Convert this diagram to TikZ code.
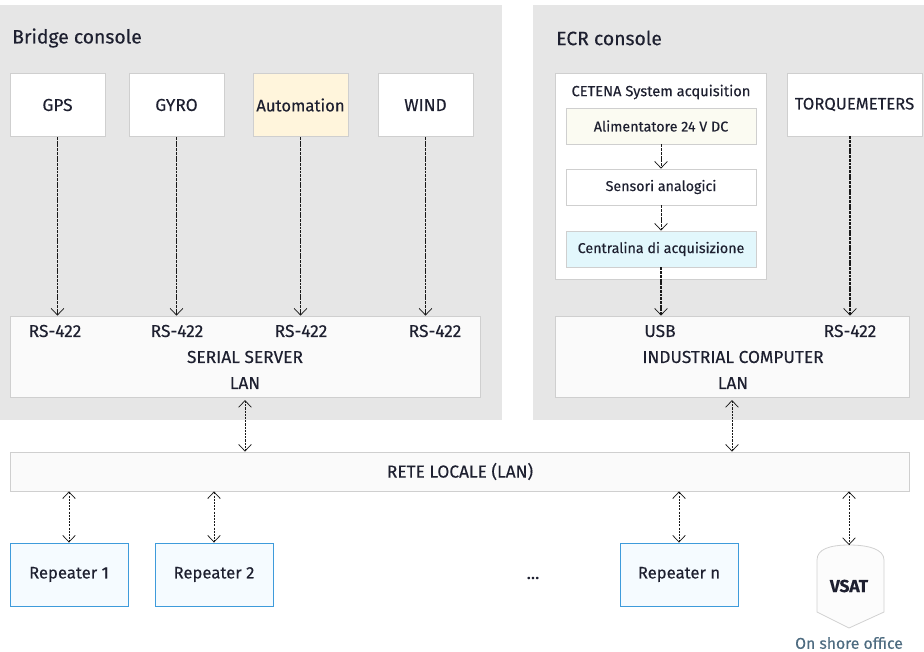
\documentclass[tikz,border=0pt]{standalone}
\usepackage{fontspec}
\setmainfont{Fira Sans}[FakeBold=0.25]
\usetikzlibrary{arrows.meta}

\definecolor{panel}{HTML}{E6E6E6}
\definecolor{boxline}{HTML}{CFCFCF}
\definecolor{ink}{HTML}{1E2030}
\definecolor{autofill}{HTML}{FFF5DC}
\definecolor{alimfill}{HTML}{FBFBF2}
\definecolor{centfill}{HTML}{E2F7FC}
\definecolor{repline}{HTML}{3E9BDB}
\definecolor{repfill}{HTML}{F5FBFF}
\definecolor{shore}{HTML}{4D6B80}

\begin{document}
\begin{tikzpicture}[x=0.75pt,y=-0.75pt,
  font=\fontsize{13}{15}\selectfont, text=ink,
  box/.style={draw=boxline, fill=white, inner sep=0pt, line width=0.6pt},
  bus/.style={box, fill=black!2},
  rep/.style={draw=repline, fill=repfill, inner sep=0pt, line width=0.7pt,
    minimum width=88.5pt, minimum height=47.25pt, font=\fontsize{12.5}{14}\selectfont},
  sensor/.style={box, minimum width=71.25pt, minimum height=47.25pt},
  inner/.style={box, minimum width=142.5pt, minimum height=27pt, font=\fontsize{10.7}{12}\selectfont},
  link/.style={draw=black!90, line width=1.1pt, dash pattern=on 2.2pt off 0.6pt,
    -{Straight Barb[length=5pt,width=9.5pt,line width=0.55pt]}},
  dlink/.style={link, line width=0.6pt, dash pattern=on 1.6pt off 0.8pt,
    {Straight Barb[length=5pt,width=9.5pt,line width=0.55pt]}-{Straight Barb[length=5pt,width=9.5pt,line width=0.55pt]}}]
\useasboundingbox (0,0) rectangle (924,651);

% consoles
\fill[panel] (-1,5) rectangle (502,420);
\fill[panel] (533,5) rectangle (925,420);
\node[anchor=west, inner sep=0pt, font=\fontsize{14.5}{16}\selectfont] (bridgelbl) at (12,38) {Bridge console};
\node[anchor=west, inner sep=0pt, font=\fontsize{14.5}{16}\selectfont] (ecrlbl) at (556,38) {ECR console};

% bridge instruments
\node (gps) at (57.5,105) [sensor] {GPS};
\node (gyro) at (176.5,105) [sensor] {GYRO};
\node (auto) at (300.5,105) [sensor, fill=autofill, font=\fontsize{12.5}{14}\selectfont] {Automation};
\node (wind) at (425.5,105) [sensor] {WIND};

\node (serial) at (245,356.5) [bus, minimum width=352.5pt, minimum height=60.75pt] {};
\node (rs1) at (55,331) {RS-422};
\node (rs2) at (177,331) {RS-422};
\node (rs3) at (301,331) {RS-422};
\node (rs4) at (435,331) {RS-422};
\node (sslbl) at (245,357) {SERIAL SERVER};
\node (sslan) at (245,383) {LAN};

% ECR side
\node (cetena) at (660.5,176) [box, minimum width=158.25pt, minimum height=154.5pt] {};
\node (cetlbl) at (661,92) [font=\fontsize{11}{13}\selectfont] {CETENA System acquisition};
\node (alim) at (661,126) [inner, fill=alimfill] {Alimentatore 24 V DC};
\node (sens) at (661,187) [inner] {Sensori analogici};
\node (cent) at (661,249) [inner, fill=centfill] {Centralina di acquisizione};
\node (torque) at (854.5,104.5) [box, minimum width=101.25pt, minimum height=47.25pt] {\fontsize{12.5}{14}\selectfont TORQUEMETERS};

\node (indus) at (732,356.5) [bus, minimum width=265.5pt, minimum height=60.75pt] {};
\node (usb) at (660,331) {USB};
\node (rs5) at (850,331) {RS-422};
\node (iclbl) at (733,357) {INDUSTRIAL COMPUTER};
\node (iclan) at (733,383) {LAN};

% local network
\node (rete) at (460,471.5) [bus, minimum width=674.25pt, minimum height=29.25pt] {RETE LOCALE (LAN)};

\node (rep1) at (69,574.5) [rep] {Repeater 1};
\node (rep2) at (214,574.5) [rep] {Repeater 2};
\node (dots) at (533,578) {...};
\node (repn) at (679,574.5) [rep] {Repeater n};

\draw[draw=black!18, fill=black!1, line width=0.6pt]
  (817,560) .. controls (817,549) and (830,545) .. (849,545)
  .. controls (868,545) and (884,549) .. (884,560)
  -- (884,612) -- (849,628) -- (817,612) -- cycle;
\node (vsat) at (849,586) [font=\fontsize{13}{15}\selectfont\bfseries] {VSAT};
\coordinate (vsattop) at (849,545);
\node (shorelbl) at (849,643) [text=shore, font=\fontsize{11.8}{13}\selectfont] {On shore office};

% connections
\draw[link] (gps) to (gps |- serial.north);
\draw[link] (gyro) to (gyro |- serial.north);
\draw[link] (auto) to (auto |- serial.north);
\draw[link] (wind) to (wind |- serial.north);
\draw[link, line width=0.6pt] (alim) to (sens);
\draw[link, line width=0.6pt] (sens) to (cent);
\draw[link] (cent) to (cent |- indus.north);
\draw[link] (torque.south -| rs5) to (rs5 |- indus.north);
\draw[dlink, shorten <=2pt] (serial.south) to (rete.north -| serial);
\draw[dlink, shorten <=2pt] (indus.south) to (rete.north -| indus);
\draw[dlink] (rete.south -| rep1) to (rep1.north);
\draw[dlink] (rete.south -| rep2) to (rep2.north);
\draw[dlink] (rete.south -| repn) to (repn.north);
\draw[dlink] (rete.south -| vsattop) to (vsattop);
\end{tikzpicture}
\end{document}
